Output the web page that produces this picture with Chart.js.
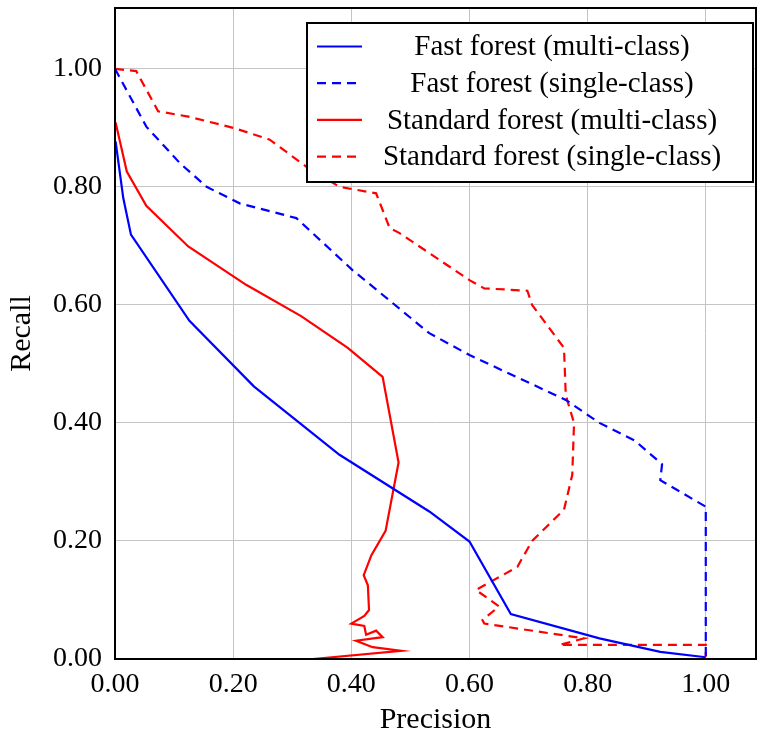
<!DOCTYPE html>
<html>
<head>
<meta charset="utf-8">
<script src="https://cdn.jsdelivr.net/npm/chart.js@4.4.0/dist/chart.umd.min.js"></script>
<style>
  html, body { margin: 0; padding: 0; background: #fff; }
</style>
</head>
<body>
<canvas id="prChart" width="757" height="735"></canvas>
<script>
// Precision / recall values
const fastMultiPrecision = [0.001, 0.014, 0.027, 0.126, 0.235, 0.38, 0.532, 0.60, 0.67, 0.82, 0.923, 1.0];
const fastMultiRecall    = [0.877, 0.781, 0.719, 0.573, 0.462, 0.346, 0.25, 0.199, 0.076, 0.035, 0.012, 0.003];

const fastSinglePrecision = [0.0, 0.053, 0.11, 0.155, 0.211, 0.307, 0.402, 0.481, 0.532, 0.60, 0.763, 0.82, 0.88, 0.926, 0.923, 1.0, 1.0];
const fastSingleRecall    = [1.0, 0.902, 0.84, 0.80, 0.772, 0.747, 0.659, 0.594, 0.552, 0.515, 0.439, 0.40, 0.37, 0.330, 0.303, 0.258, 0.003];

const stdMultiPrecision = [0.001, 0.020, 0.053, 0.124, 0.222, 0.315, 0.394, 0.453, 0.48, 0.458, 0.434, 0.421, 0.428, 0.43, 0.422, 0.40, 0.422, 0.425, 0.442, 0.453, 0.408, 0.436, 0.484, 0.335];
const stdMultiRecall    = [0.909, 0.826, 0.768, 0.699, 0.634, 0.581, 0.527, 0.478, 0.333, 0.217, 0.176, 0.142, 0.125, 0.083, 0.073, 0.060, 0.056, 0.041, 0.048, 0.037, 0.031, 0.020, 0.014, 0.0];

const stdSinglePrecision = [0.0, 0.036, 0.073, 0.124, 0.20, 0.262, 0.324, 0.38, 0.442, 0.465, 0.481, 0.60, 0.625, 0.698, 0.706, 0.76, 0.763, 0.777, 0.774, 0.76, 0.706, 0.681, 0.656, 0.611, 0.65, 0.622, 0.625, 0.794, 0.752, 1.0, 1.0];
const stdSingleRecall    = [1.0, 0.996, 0.928, 0.919, 0.90, 0.88, 0.834, 0.80, 0.789, 0.73, 0.722, 0.642, 0.628, 0.624, 0.60, 0.527, 0.447, 0.40, 0.312, 0.253, 0.20, 0.156, 0.142, 0.117, 0.089, 0.066, 0.060, 0.035, 0.024, 0.024, 0.004];

const seriesLabels = [
  'Fast forest (multi-class)',
  'Fast forest (single-class)',
  'Standard forest (multi-class)',
  'Standard forest (single-class)'
];

const tickValues = [0, 0.2, 0.4, 0.6, 0.8, 1.0];

const FONT = "'Liberation Serif', 'DejaVu Serif', serif";

function toPoints(xs, ys) {
  return xs.map((x, i) => ({ x: x, y: ys[i] }));
}

// pgfplots style: full black frame around the plot area
const frameBox = {
  id: 'frameBox',
  afterDatasetsDraw(chart) {
    const a = chart.chartArea;
    const ctx = chart.ctx;
    ctx.save();
    ctx.strokeStyle = '#000';
    ctx.lineWidth = 2;
    ctx.strokeRect(a.left, a.top, a.right - a.left, a.bottom - a.top);
    ctx.restore();
  }
};

// legend box in the top right corner, entries centered like pgfplots
const boxLegend = {
  id: 'boxLegend',
  afterDraw(chart) {
    const a = chart.chartArea;
    const ctx = chart.ctx;
    const w = 446, h = 159;
    const x0 = a.right - 3 - w;
    const y0 = a.top + 15;
    ctx.save();
    ctx.fillStyle = '#fff';
    ctx.fillRect(x0, y0, w, h);
    ctx.strokeStyle = '#000';
    ctx.lineWidth = 2;
    ctx.strokeRect(x0, y0, w, h);
    ctx.font = '29px ' + FONT;
    ctx.textAlign = 'center';
    ctx.textBaseline = 'middle';
    chart.data.datasets.forEach((ds, i) => {
      const cy = y0 + 23.5 + i * 36.7;
      ctx.strokeStyle = ds.borderColor;
      ctx.lineWidth = ds.borderWidth;
      ctx.setLineDash(ds.borderDash || []);
      ctx.beginPath();
      ctx.moveTo(x0 + 10, cy);
      ctx.lineTo(x0 + 55, cy);
      ctx.stroke();
      ctx.setLineDash([]);
      ctx.fillStyle = '#000';
      ctx.fillText(ds.label, x0 + 245, cy + 1);
    });
    ctx.restore();
  }
};

const ctx = document.getElementById('prChart').getContext('2d');
new Chart(ctx, {
  type: 'scatter',
  data: {
    datasets: [
      {
        label: seriesLabels[0],
        data: toPoints(fastMultiPrecision, fastMultiRecall),
        borderColor: '#0000ff', borderWidth: 2.2, borderDash: []
      },
      {
        label: seriesLabels[1],
        data: toPoints(fastSinglePrecision, fastSingleRecall),
        borderColor: '#0000ff', borderWidth: 2.2, borderDash: [9, 6]
      },
      {
        label: seriesLabels[2],
        data: toPoints(stdMultiPrecision, stdMultiRecall),
        borderColor: '#ff0000', borderWidth: 2.2, borderDash: []
      },
      {
        label: seriesLabels[3],
        data: toPoints(stdSinglePrecision, stdSingleRecall),
        borderColor: '#ff0000', borderWidth: 2.2, borderDash: [9, 6]
      }
    ].map(ds => Object.assign(ds, { showLine: true, pointRadius: 0, fill: false, tension: 0 }))
  },
  options: {
    responsive: false,
    animation: false,
    layout: { padding: { left: 0, right: 1, top: 8, bottom: 0 } },
    plugins: {
      legend: { display: false },
      tooltip: { enabled: false }
    },
    scales: {
      x: {
        type: 'linear',
        min: 0,
        max: 1.085,
        afterBuildTicks: (scale) => { scale.ticks = tickValues.map(v => ({ value: v })); },
        afterFit: (scale) => {
          scale.height = 76;
          scale.paddingLeft = 0;
          scale.paddingRight = 0;
        },
        grid: { color: '#c4c4c4', lineWidth: 1, drawTicks: false },
        border: { display: false },
        ticks: {
          padding: 9,
          color: '#000',
          font: { family: FONT, size: 28 },
          callback: (v) => Number(v).toFixed(2)
        },
        title: {
          display: true,
          text: 'Precision',
          color: '#000',
          font: { family: FONT, size: 30 },
          padding: { top: 0, bottom: -3 }
        }
      },
      y: {
        type: 'linear',
        min: 0,
        max: 1.103,
        afterBuildTicks: (scale) => { scale.ticks = tickValues.map(v => ({ value: v })); },
        afterFit: (scale) => {
          scale.width = 115;
          scale.paddingTop = 0;
          scale.paddingBottom = 0;
        },
        grid: { color: '#c4c4c4', lineWidth: 1, drawTicks: false },
        border: { display: false },
        ticks: {
          padding: 13,
          color: '#000',
          font: { family: FONT, size: 28 },
          callback: (v) => Number(v).toFixed(2)
        },
        title: {
          display: true,
          text: 'Recall',
          color: '#000',
          font: { family: FONT, size: 30 },
          padding: { top: 4, bottom: 0 }
        }
      }
    }
  },
  plugins: [frameBox, boxLegend]
});
</script>
</body>
</html>
